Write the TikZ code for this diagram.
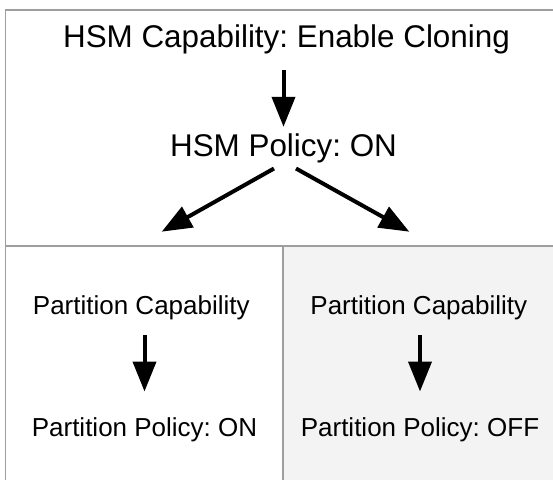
\documentclass[tikz,border=0pt]{standalone}
\usepackage{fontspec}
\setmainfont{Liberation Sans}
\usetikzlibrary{arrows.meta,calc}
\definecolor{frameg}{RGB}{158,158,158}
\definecolor{cellg}{RGB}{243,243,243}
\frenchspacing
\begin{document}
\begin{tikzpicture}[x=1pt,y=-1pt,
  frame/.style={draw=frameg, line width=1.6pt},
  big/.style={font=\fontsize{31.4}{36}\selectfont, inner sep=0pt, text height=23pt, text depth=7pt, anchor=base},
  small/.style={font=\fontsize{26}{30}\selectfont, inner sep=0pt, text height=19pt, text depth=6pt, anchor=base},
  arr/.style={line width=4pt, -{Triangle[length=30pt,width=23pt]}}
]
\useasboundingbox (0,0) rectangle (553,479);
% right cell fill
\fill[cellg] (283,246) rectangle (560,485);
% frame lines
\draw[frame] (5.5,490) -- (5.5,10) -- (560,10);
\draw[frame] (5.5,246) -- (560,246);
\draw[frame] (283,246) -- (283,490);

% texts
\node[big] (top) at (286.5,47) {HSM Capability: Enable Cloning};
\node[big] (policy) at (283.5,156.7) {HSM Policy: ON};
\node[small] (lpc) at (141.3,314.3) {Partition Capability};
\node[small] (lpp) at (144.5,436.7) {Partition Policy: ON};
\node[small] (rpc) at (418.8,314.3) {Partition Capability};
\node[small] (rpp) at (420,436.7) {Partition Policy: OFF};

% free ends of the diagonal arrows
\coordinate (lend) at (161.7,231.7);
\coordinate (rend) at (409.3,231.7);

% arrows
\draw[arr, shorten <=16pt, shorten >=6.7pt] (top.south -| policy.north) -- (policy.north);
\draw[arr] ($(policy.south)+(-9.5,4.6)$) -- (lend);
\draw[arr] ($(policy.south)+(12.5,4.6)$) -- (rend);
\draw[arr, shorten <=14.7pt, shorten >=26pt] (lpc.south -| lpp.north) -- (lpp.north);
\draw[arr, shorten <=14.7pt, shorten >=26pt] (rpc.south -| rpp.north) -- (rpp.north);
\end{tikzpicture}
\end{document}
